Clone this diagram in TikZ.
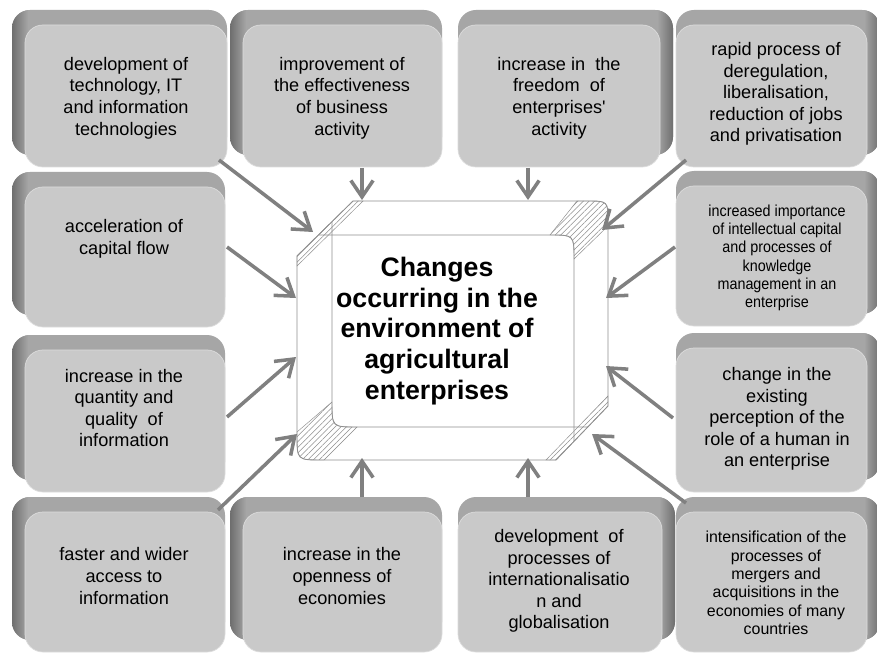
\documentclass[tikz,border=0pt]{standalone}
\usepackage{fontspec}
\setmainfont{Liberation Sans}
\newfontfamily\condensedsans[FakeStretch=0.9]{Liberation Sans}
\usetikzlibrary{arrows.meta,patterns.meta,fit}

\definecolor{facegray}{HTML}{C9C9C9}
\definecolor{rimgray}{HTML}{A6A6A6}
\definecolor{rimdark}{HTML}{6E6E6E}
\definecolor{edgegray}{HTML}{DCDCDC}
\definecolor{arrowgray}{HTML}{808080}
\definecolor{framegray}{HTML}{8F8F8F}

\tikzset{
  face/.style={fill=facegray, draw=edgegray, line width=0.6pt, rounded corners=5.4mm, inner sep=0pt},
  rim/.style={fill=rimgray, rounded corners=5.4mm},
  boxtext/.style={align=center, inner sep=0pt, text=black, font=\fontsize{15.5}{18.4}\selectfont},
  smalltext/.style={align=center, inner sep=0pt, text=black, font=\fontsize{13.6}{15.7}\selectfont},
  narrowtext/.style={align=center, inner sep=0pt, text=black, font=\condensedsans\fontsize{13.6}{15.6}\selectfont},
  coretext/.style={align=center, inner sep=0pt, text=black, font=\bfseries\fontsize{22.8}{26.2}\selectfont},
  feed/.style={draw=arrowgray, line width=3pt, -{Straight Barb[length=14pt,width=19pt,line width=3pt]}},
  frame/.style={draw=framegray, line width=0.7pt},
  hatch/.style={pattern={Lines[angle=45,distance=3.4pt,line width=0.45pt]}, pattern color=framegray, draw=framegray, line width=0.4pt},
}

% extruded rim of a box, seen from the upper left (face corners x1,y1,x2,y2)
\newcommand\rimleft[4]{%
  \fill[rim] (#1-13,#2-15) rectangle (#3,#4-12);
  \begin{scope}
    \clip[rounded corners=5.4mm] (#1-13,#2-15) rectangle (#3,#4-12);
    \shade[left color=rimdark, right color=rimgray] (#1-13,#2-15) rectangle (#1+3,#4);
  \end{scope}}
% extruded rim of a box, seen from the upper right
\newcommand\rimright[4]{%
  \fill[rim] (#1,#2-15) rectangle (#3+13,#4-12);
  \begin{scope}
    \clip[rounded corners=5.4mm] (#1,#2-15) rectangle (#3+13,#4-12);
    \shade[left color=rimgray, right color=rimdark] (#3-3,#2-15) rectangle (#3+13,#4);
  \end{scope}}

\begin{document}
\begin{tikzpicture}[x=0.03cm, y=-0.03cm]
\useasboundingbox[fill=white] (0,0) rectangle (877,655);

% ---- boxes: rim, face, caption ----
\rimleft{25}{25}{227}{167}
\node[face, fit={(25,25) (227,167)}] (b1) {};
\node[boxtext] (t1) at (126,98) {development of\\technology, IT\\and information\\technologies};

\rimleft{243}{25}{442}{167}
\node[face, fit={(243,25) (442,167)}] (b2) {};
\node[boxtext] (t2) at (342,98) {improvement of\\the effectiveness\\of business\\activity};

\rimright{458}{25}{660}{167}
\node[face, fit={(458,25) (660,167)}] (b3) {};
\node[boxtext] (t3) at (559,98) {increase in\ \ the\\freedom\ \ of\\enterprises\textquotesingle\\activity};

\rimright{676}{25}{867}{167}
\node[face, fit={(676,25) (867,167)}] (b4) {};
\node[boxtext] (t4) at (776,94) {rapid process of\\deregulation,\\liberalisation,\\reduction of jobs\\and privatisation};

\rimleft{25}{187}{225}{327}
\node[face, fit={(25,187) (225,327)}] (b5) {};
\node[boxtext] (t5) at (124,239) {acceleration of\\capital flow};

\rimright{676}{186}{867}{326}
\node[face, fit={(676,186) (867,326)}] (b7) {};
\node[narrowtext] (t7) at (777,258) {increased importance\\of intellectual capital\\and processes of\\knowledge\\management in an\\enterprise};

\rimleft{25}{350}{225}{492}
\node[face, fit={(25,350) (225,492)}] (b6) {};
\node[boxtext] (t6) at (124,408) {increase in the\\quantity and\\quality\ \ of\\information};

\rimright{676}{348}{867}{492}
\node[face, fit={(676,348) (867,492)}] (b8) {};
\node[boxtext] (t8) at (777,419) {change in the\\existing\\perception of the\\role of a human in\\an enterprise};

\rimleft{25}{512}{225}{652}
\node[face, fit={(25,512) (225,652)}] (b9) {};
\node[boxtext] (t9) at (124,576) {faster and wider\\access to\\information};

\rimleft{243}{512}{442}{652}
\node[face, fit={(243,512) (442,652)}] (b10) {};
\node[boxtext] (t10) at (342,576) {increase in the\\openness of\\economies};

\rimright{458}{512}{662}{652}
\node[face, fit={(458,512) (662,652)}] (b11) {};
\node[boxtext] (t11) at (559,581) {development\ \ of\\processes of\\internationalisatio\\n and\\globalisation};

\rimright{676}{512}{867}{652}
\node[face, fit={(676,512) (867,652)}] (b12) {};
\node[smalltext] (t12) at (776,583) {intensification of the\\processes of\\mergers and\\acquisitions in the\\economies of many\\countries};

% ---- central bevelled frame ----
\path[frame, fill=white] (353,201) -- (587,201) .. controls (608,201) .. (608,222)
  -- (608,406) -- (556,460) -- (322,460) .. controls (297,460) .. (297,435)
  -- (297,256) -- cycle;
% hatched corner faces
\path[hatch] (297,256) -- (353,201) -- (363,201) -- (297,266) -- cycle;
\path[hatch] (556,460) -- (608,406) -- (608,396) -- (546,460) -- cycle;
\path[hatch] (550,235) -- (577,201) -- (587,201) .. controls (608,201) .. (608,222)
  -- (608,226) -- (574,259) .. controls (574,235) .. (550,235) -- cycle;
\path[hatch] (332,402) -- (297,432) -- (297,435) .. controls (297,460) .. (322,460)
  -- (324,460) -- (357,427) .. controls (332,427) .. (332,402) -- cycle;
% front face edges
\draw[frame] (319,235) -- (550,235) .. controls (574,235) .. (574,259) -- (574,441);
\draw[frame] (332,222) -- (332,402) .. controls (332,427) .. (357,427) -- (588,427);

\node[coretext] (core) at (437,331) {Changes\\occurring in the\\environment of\\agricultural\\enterprises};

% ---- connector ends ----
\coordinate (s1) at (219,160);  \coordinate (e1) at (313,232);
\coordinate (s2) at (362,168);  \coordinate (e2) at (362,200);
\coordinate (s3) at (528,168);  \coordinate (e3) at (528,200);
\coordinate (s4) at (686,160);  \coordinate (e4) at (602,230);
\coordinate (s5) at (227,247);  \coordinate (e5) at (296,298);
\coordinate (s6) at (227,417);  \coordinate (e6) at (296,357);
\coordinate (s7) at (675,247);  \coordinate (e7) at (606,298);
\coordinate (s8) at (673,418);  \coordinate (e8) at (606,366);
\coordinate (s9) at (218,510);  \coordinate (e9) at (297,434);
\coordinate (s10) at (362,497); \coordinate (e10) at (362,458);
\coordinate (s11) at (528,497); \coordinate (e11) at (528,458);
\coordinate (s12) at (686,503); \coordinate (e12) at (592,434);

\foreach \i in {1,...,12} \draw[feed] (s\i) -- (e\i);
\end{tikzpicture}
\end{document}
